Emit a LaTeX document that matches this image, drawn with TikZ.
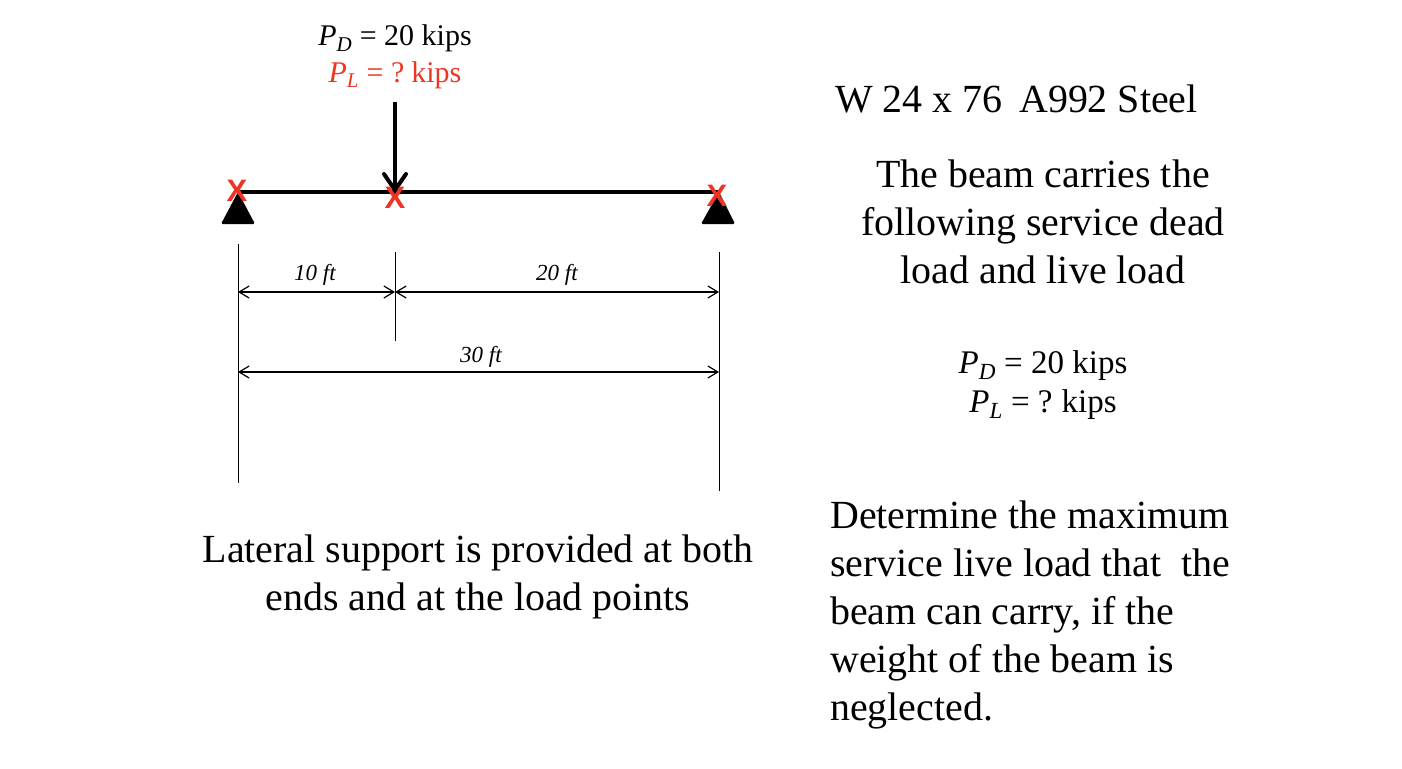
\documentclass[tikz,border=0pt]{standalone}
\usepackage{fontspec}
\setmainfont{Liberation Serif}
\newfontfamily\crossfont{Liberation Sans}
\usetikzlibrary{arrows.meta, positioning}
\definecolor{markred}{RGB}{238,53,36}
\newcommand{\loadsym}[1]{\textit{P}\textsubscript{\textit{#1}}}
\tikzset{
	bodytext/.style={inner sep=0pt, font=\fontsize{39.9}{48}\selectfont},
	loadtext/.style={inner sep=0pt, font=\fontsize{33}{39}\selectfont},
	toptext/.style={inner sep=0pt, font=\fontsize{30}{36}\selectfont},
	dimtext/.style={inner sep=0pt, font=\fontsize{23}{26}\selectfont\itshape},
	cross/.style={inner sep=0pt, text=markred, font=\fontsize{31}{31}\selectfont\crossfont\bfseries},
	beamline/.style={line width=4pt},
	extline/.style={line width=1pt},
	dimline/.style={line width=1.2pt, {Straight Barb[length=10pt,width=12pt]}-{Straight Barb[length=10pt,width=12pt]}}
}
\begin{document}
\begin{tikzpicture}[x=1pt, y=-1pt]
	\useasboundingbox (0,0) rectangle (1402,768);

	% beam %
	\coordinate (a) at (238,192);
	\coordinate[right of = a, node distance=157pt] (b);
	\coordinate[right of = a, node distance=481pt] (c);
	\coordinate[above of = b, node distance=90pt] (loadtop);
	\draw[beamline] (a) -- (c);
	\fill[rounded corners=1.5pt] (a) -- ++(17,32) -- ++(-34,0) -- cycle;
	\fill[rounded corners=1.5pt] (c) -- ++(16,32) -- ++(-34,0) -- cycle;
	\draw[beamline, -{Straight Barb[round,length=16pt,width=22pt]}] (loadtop) -- (b);

	% lateral supports %
	\node[cross] (xa) at (237,191) {X};
	\node[cross] (xb) at (395,198) {X};
	\node[cross] (xc) at (717,196) {X};

	% dimension lines %
	\coordinate (dima) at (238,244);
	\coordinate (dimb) at (238,483);
	\coordinate (dimc) at (395,252);
	\coordinate (dimd) at (395,341);
	\coordinate (dime) at (719,252);
	\coordinate (dimf) at (719,491);
	\draw[extline] (dima) -- (dimb);
	\draw[extline] (dimc) -- (dimd);
	\draw[extline] (dime) -- (dimf);
	\coordinate (la) at (238,292);
	\coordinate (lb) at (395,292);
	\coordinate (lc) at (719,292);
	\coordinate (ld) at (238,372);
	\coordinate (le) at (719,372);
	\draw[dimline] (la) -- (lb);
	\draw[dimline] (lb) -- (lc);
	\draw[dimline] (ld) -- (le);
	\node[dimtext] (ten) at (315,275) {10 ft};
	\node[dimtext] (twenty) at (557,275) {20 ft};
	\node[dimtext] (thirty) at (481,357) {30 ft};

	% text %
	\node[toptext, anchor=base] (pd) at (395,46) {\loadsym{D} = 20 kips};
	\node[toptext, anchor=base, text=markred] (pl) at (395,82) {\loadsym{L} = ?\hspace{-0.1em} kips};
	\node[bodytext, anchor=base west] (section) at (835,112) {W 24 x 76\hspace{0.42em}A992 Steel};
	\node[bodytext, align=center, anchor=north] (carries) at (1043,160) {The beam carries the\\following service dead\\load and live load};
	\node[loadtext, anchor=base] (pdb) at (1043,373) {\loadsym{D} = 20 kips};
	\node[loadtext, anchor=base] (plb) at (1043,412) {\loadsym{L} = ?\hspace{-0.06em} kips};
	\node[bodytext, align=left, anchor=north west] (determine) at (830,501) {Determine the maximum\\service live load that\ \ the\\beam can carry, if the\\weight of the beam is\\neglected.};
	\node[bodytext, align=center, anchor=north] (lateral) at (478,535) {Lateral support is provided at both\\ends and at the load points};
\end{tikzpicture}
\end{document}
